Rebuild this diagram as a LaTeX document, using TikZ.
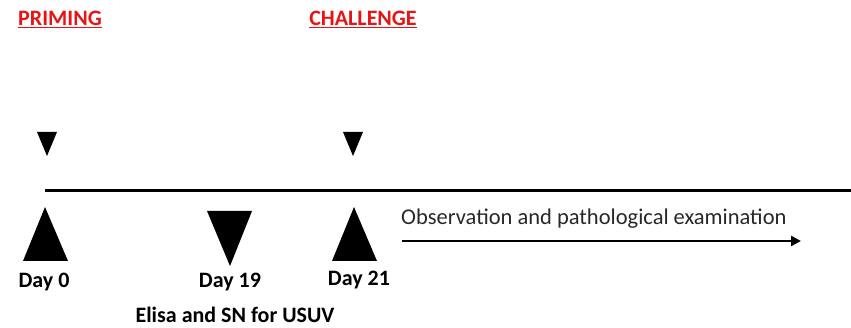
\documentclass[tikz,border=0pt]{standalone}
\usepackage{fontspec}
\setmainfont{Carlito}
\usetikzlibrary{arrows.meta}
\definecolor{titlered}{RGB}{232,20,20}
\definecolor{txtgray}{RGB}{40,40,40}
\begin{document}
\begin{tikzpicture}[x=1pt,y=-1pt,
  title/.style={font=\fontsize{22}{26}\selectfont\bfseries, text=titlered, inner sep=0pt},
  daylbl/.style={font=\fontsize{22}{26}\selectfont\bfseries, inner sep=0pt},
  obslbl/.style={font=\fontsize{22.5}{26}\selectfont, text=txtgray, inner sep=0pt, anchor=west},
  tri/.style={fill=black}]
\useasboundingbox (0,0) rectangle (851,328);
% titles
\node[title] (priming) at (60,18) {PRIMING};
\node[title] (challenge) at (363,18) {CHALLENGE};
\draw[titlered, line width=1.5pt] ([yshift=-2pt]priming.south west) -- ([yshift=-2pt]priming.south east);
\draw[titlered, line width=1.5pt] ([yshift=-2pt]challenge.south west) -- ([yshift=-2pt]challenge.south east);
% small down triangles
\fill[tri] (37,132) -- (57,132) -- (47,156) -- cycle;
\fill[tri] (343,132) -- (363,132) -- (353,156) -- cycle;
% timeline
\coordinate (tl0) at (45,191);
\coordinate (tl1) at (851,191);
\draw[line width=3pt] (tl0) -- (tl1);
% big triangles
\fill[tri] (45,207) -- (68,261) -- (23,261) -- cycle;
\fill[tri] (207,211) -- (252,211) -- (230,266) -- cycle;
\fill[tri] (354,207) -- (377,261) -- (332,261) -- cycle;
% labels
\node[daylbl] (d0) at (44,282) {Day 0};
\node[daylbl] (d19) at (230,282) {Day 19};
\node[daylbl] (d21) at (359,280) {Day 21};
\node[daylbl] (elisa) at (235,315) {Elisa and SN for USUV};
\node[obslbl] (obs) at (401,219) {Observation and pathological examination};
\coordinate (a0) at (402,241);
\coordinate (a1) at (801,241);
\draw[line width=2.6pt, -{Triangle[length=10pt,width=10pt]}] (a0) -- (a1);
\end{tikzpicture}
\end{document}
